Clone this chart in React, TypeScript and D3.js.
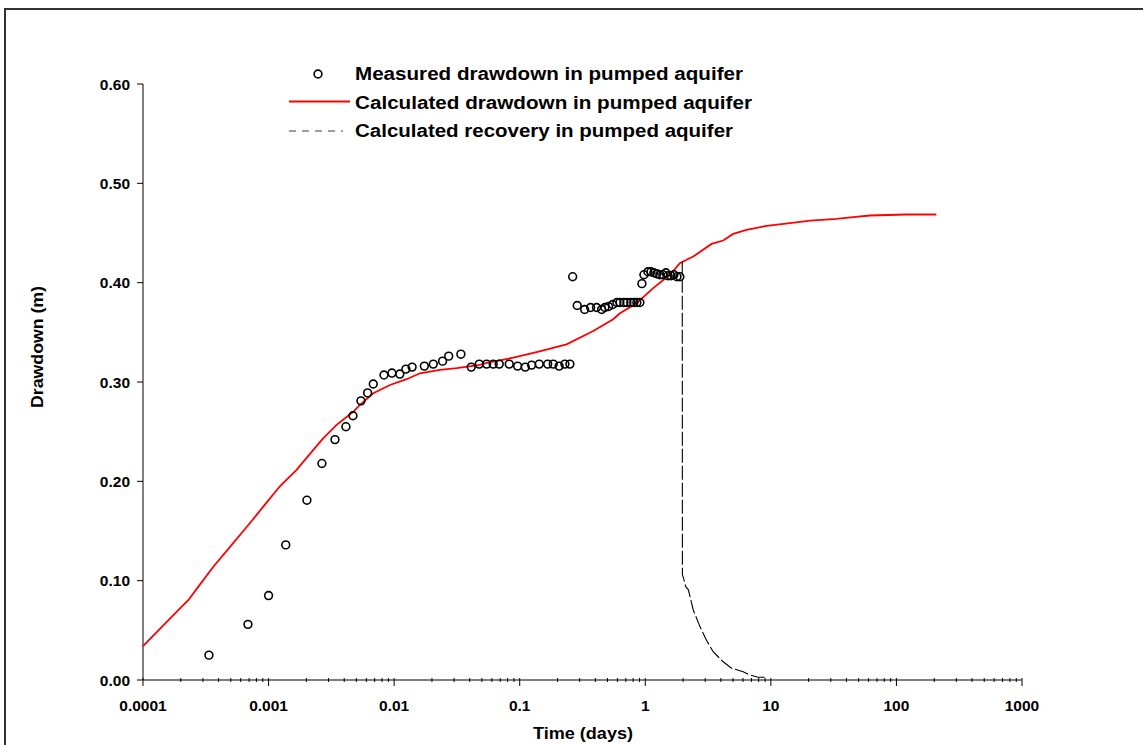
import * as d3 from "d3";

// Measured drawdown (time in days, drawdown in m)
const measuredTime = [
  0.000335, 0.000685, 0.001, 0.00137, 0.00202, 0.00266, 0.00338, 0.00413, 0.0047, 0.00544,
  0.00615, 0.00682, 0.0083, 0.0096, 0.0111, 0.0124, 0.0139, 0.0174, 0.0205, 0.0243,
  0.0272, 0.034, 0.0411, 0.0476, 0.0545, 0.0615, 0.0687, 0.0825, 0.0962, 0.1107,
  0.1244, 0.143, 0.167, 0.185, 0.206, 0.229, 0.251, 0.264, 0.287, 0.329,
  0.367, 0.409, 0.449, 0.477, 0.51, 0.55, 0.594, 0.628, 0.676, 0.714,
  0.767, 0.811, 0.857, 0.906, 0.94, 0.975, 1.049, 1.109, 1.17, 1.236,
  1.307, 1.38, 1.459, 1.514, 1.6, 1.69, 1.786, 1.885,
];
const measuredDrawdown = [
  0.025, 0.056, 0.085, 0.136, 0.181, 0.218, 0.242, 0.255, 0.266, 0.281,
  0.289, 0.298, 0.307, 0.309, 0.308, 0.313, 0.315, 0.316, 0.318, 0.321,
  0.326, 0.328, 0.315, 0.318, 0.318, 0.318, 0.318, 0.318, 0.316, 0.315,
  0.317, 0.318, 0.318, 0.318, 0.316, 0.318, 0.318, 0.406, 0.377, 0.373,
  0.375, 0.375, 0.373, 0.375, 0.376, 0.378, 0.38, 0.38, 0.38, 0.38,
  0.38, 0.38, 0.38, 0.38, 0.399, 0.408, 0.411, 0.411, 0.41, 0.409,
  0.408, 0.408, 0.41, 0.407, 0.407, 0.408, 0.406, 0.406,
];

// Calculated drawdown
const calcTime = [
  0.0001, 0.000197, 0.00023, 0.000276, 0.000363, 0.000493, 0.000669, 0.000907, 0.00123, 0.00167,
  0.00227, 0.00273, 0.00348, 0.00472, 0.00534, 0.00682, 0.00926, 0.01257, 0.01604, 0.02316,
  0.0314, 0.0482, 0.0545, 0.0889, 0.136, 0.236, 0.385, 0.555, 0.628, 0.853,
  1.156, 1.57, 1.885, 2.13, 2.41, 3.37, 4.17, 5.01, 6.4, 9.25,
  14.2, 20.5, 33.3, 45.2, 61.4, 120, 208,
];
const calcDrawdown = [
  0.034, 0.072, 0.0806, 0.094, 0.114, 0.134, 0.154, 0.1745, 0.195, 0.2115,
  0.2316, 0.2434, 0.2568, 0.27, 0.277, 0.2887, 0.297, 0.3028, 0.3088, 0.3122,
  0.3139, 0.3172, 0.3192, 0.3245, 0.3301, 0.3379, 0.3513, 0.3632, 0.3692, 0.3793,
  0.3945, 0.4079, 0.4196, 0.423, 0.4263, 0.439, 0.4424, 0.4491, 0.4532, 0.4572,
  0.4599, 0.4625, 0.4642, 0.4659, 0.4676, 0.4686, 0.4686,
];

// Calculated recovery
const recoveryTime = [1.97, 1.975, 2.03, 2.1, 2.2, 2.41, 2.72, 3.07, 3.47, 4.17, 4.86, 6.02, 6.81, 7.93, 8.96];
const recoveryDrawdown = [0.421, 0.106, 0.101, 0.094, 0.091, 0.0705, 0.054, 0.04, 0.0285, 0.0184, 0.0118, 0.0084, 0.005, 0.0027, 0.0027];

const xTickValues = [0.0001, 0.001, 0.01, 0.1, 1, 10, 100, 1000];
const xTickLabels = ["0.0001", "0.001", "0.01", "0.1", "1", "10", "100", "1000"];
const yTickValues = [0, 0.1, 0.2, 0.3, 0.4, 0.5, 0.6];
const yTickLabels = ["0.00", "0.10", "0.20", "0.30", "0.40", "0.50", "0.60"];

const legendLabels = [
  "Measured drawdown in pumped aquifer",
  "Calculated drawdown in pumped aquifer",
  "Calculated recovery in pumped aquifer",
];

const App = () => {
  const width = 1143;
  const height = 745;
  const font = "'Liberation Sans', Arial, sans-serif";

  // Scales
  const xScale = d3.scaleLog().domain([0.0001, 1000]).range([143, 1022]);
  const yScale = d3.scaleLinear().domain([0, 0.6]).range([680, 84]);

  const line = d3
    .line<[number, number]>()
    .x((d) => xScale(d[0]))
    .y((d) => yScale(d[1]))
    .curve(d3.curveLinear);

  const calcData = calcTime.map((t, i) => [t, calcDrawdown[i]] as [number, number]);
  const recoveryData = recoveryTime.map((t, i) => [t, recoveryDrawdown[i]] as [number, number]);

  // minor ticks: 2..9 in each decade
  const minorTicks = xScale.ticks().filter((v) => !xTickValues.some((m) => Math.abs(m - v) / m < 1e-6));

  const y0 = yScale(0);
  const xLeft = xScale(0.0001);

  return (
    <svg
      width={width}
      height={height}
      style={{ position: "absolute", left: 0, top: 0, display: "block", background: "#fff" }}
      fontFamily={font}
      fontWeight="bold"
    >
      {/* outer frame */}
      <path d={`M5,${height + 10} V9 H${width + 10}`} fill="none" stroke="#333" strokeWidth={2} />

      {/* y axis */}
      <line x1={xLeft} x2={xLeft} y1={yScale(0.6)} y2={y0} stroke="#000" strokeWidth={1} />
      {yTickValues.map((v, i) => (
        <g key={"y" + i}>
          <line x1={xLeft - 6} x2={xLeft} y1={yScale(v)} y2={yScale(v)} stroke="#000" />
          <text x={130} y={yScale(v) + 5.5} textAnchor="end" fontSize={15.5}>
            {yTickLabels[i]}
          </text>
        </g>
      ))}

      {/* x axis */}
      <line x1={xLeft} x2={xScale(1000)} y1={y0} y2={y0} stroke="#000" strokeWidth={1} />
      {minorTicks.map((v, i) => (
        <line key={"m" + i} x1={xScale(v)} x2={xScale(v)} y1={y0 - 2} y2={y0 + 2} stroke="#000" />
      ))}
      {xTickValues.map((v, i) => (
        <g key={"x" + i}>
          <line x1={xScale(v)} x2={xScale(v)} y1={y0 - 2} y2={y0 + 6} stroke="#000" />
          <text x={xScale(v)} y={711} textAnchor="middle" fontSize={15.5}>
            {xTickLabels[i]}
          </text>
        </g>
      ))}

      {/* axis titles */}
      <text x={583} y={739} textAnchor="middle" fontSize={16} textLength={100} lengthAdjust="spacingAndGlyphs">
        Time (days)
      </text>
      <text
        transform="translate(43,347) rotate(-90)"
        textAnchor="middle"
        fontSize={16}
        textLength={122}
        lengthAdjust="spacingAndGlyphs"
      >
        Drawdown (m)
      </text>

      {/* calculated drawdown */}
      <path d={line(calcData) || ""} fill="none" stroke="#ff0000" strokeWidth={1.8} />

      {/* recovery */}
      <path d={line(recoveryData) || ""} fill="none" stroke="#000" strokeWidth={1.1} strokeDasharray="14 3" />

      {/* measured points */}
      {measuredTime.map((t, i) => (
        <circle
          key={"p" + i}
          cx={xScale(t)}
          cy={yScale(measuredDrawdown[i])}
          r={3.9}
          fill="none"
          stroke="#000"
          strokeWidth={1.6}
        />
      ))}

      {/* legend */}
      <circle cx={318} cy={74} r={3.9} fill="none" stroke="#000" strokeWidth={1.6} />
      <line x1={289} x2={350} y1={101.5} y2={101.5} stroke="#ff0000" strokeWidth={1.8} />
      <line x1={289} x2={343} y1={131} y2={131} stroke="#808080" strokeWidth={1.5} strokeDasharray="7 6" />
      {legendLabels.map((label, i) => (
        <text
          key={"l" + i}
          x={355}
          y={80 + i * 28.5}
          fontSize={17.5}
          textLength={[388, 397, 378][i]}
          lengthAdjust="spacingAndGlyphs"
        >
          {label}
        </text>
      ))}
    </svg>
  );
};

export default App;
